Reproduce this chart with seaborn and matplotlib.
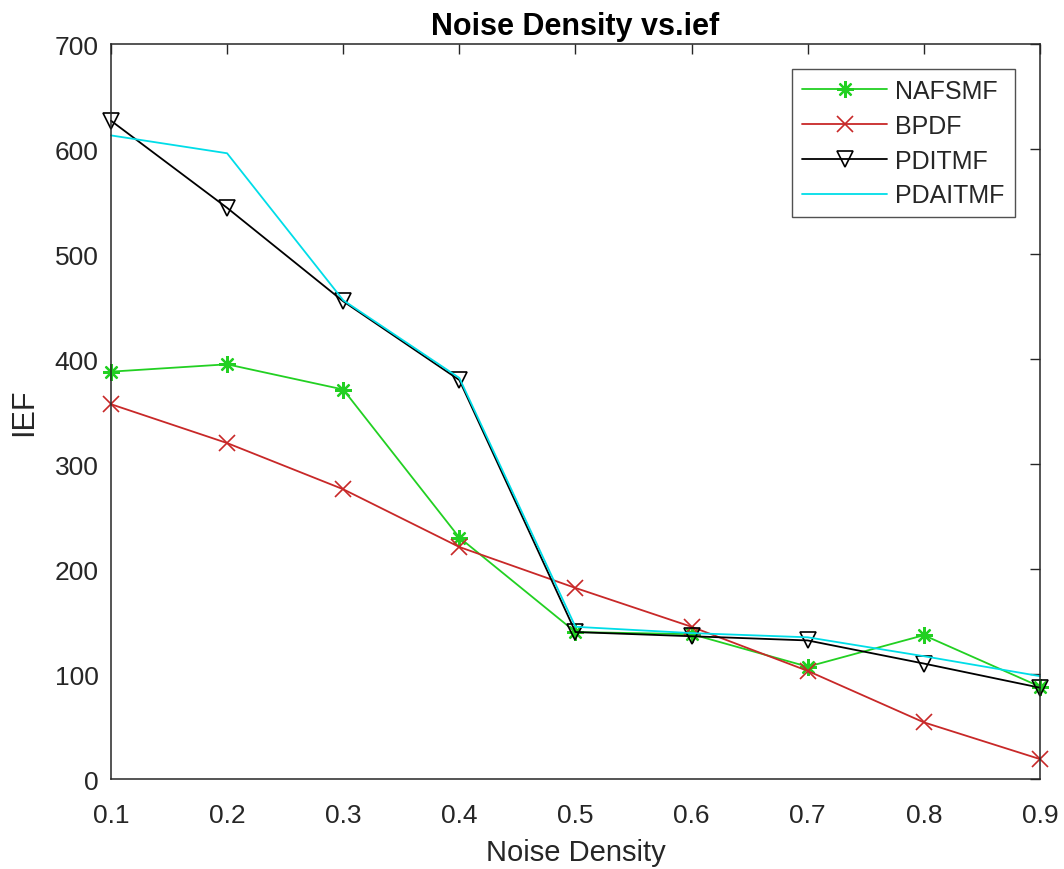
import matplotlib
matplotlib.use("Agg")
import matplotlib.pyplot as plt
import seaborn as sns
import pandas as pd

noise_density = [0.1, 0.2, 0.3, 0.4, 0.5, 0.6, 0.7, 0.8, 0.9]
nafsmf = [388, 395, 371, 230, 140, 138, 107, 137, 88]
bpdf = [357, 320, 276, 221, 182, 145, 103, 54, 19]
pditmf = [627, 544, 455, 380, 140, 136, 132, 110, 87]
pdaitmf = [613, 596, 456, 382, 145, 139, 135, 117, 98]

x_ticks = [0.1, 0.2, 0.3, 0.4, 0.5, 0.6, 0.7, 0.8, 0.9]
y_ticks = [0, 100, 200, 300, 400, 500, 600, 700]

sns.set_theme(style="white")
plt.rcParams["font.family"] = ["Liberation Sans", "DejaVu Sans"]

fig = plt.figure(figsize=(10.64, 8.70), dpi=100)
ax = fig.add_axes([0.1043, 0.1034, 0.8731, 0.8448])

GREEN = "#22d022"
RED = "#c82828"
CYAN = "#00dde8"

series = [
    ("NAFSMF", nafsmf, dict(color=GREEN, marker=(8, 2, 0), markersize=12,
                            markeredgecolor=GREEN, markeredgewidth=1.6)),
    ("BPDF", bpdf, dict(color=RED, marker="x", markersize=11,
                        markeredgecolor=RED, markeredgewidth=1.2)),
    ("PDITMF", pditmf, dict(color="black", marker="v", markersize=11,
                            markerfacecolor="none", markeredgecolor="black",
                            markeredgewidth=1.2)),
    ("PDAITMF", pdaitmf, dict(color=CYAN, marker=None)),
]

for name, values, style in series:
    df = pd.DataFrame({"Noise Density": noise_density, "IEF": values})
    sns.lineplot(data=df, x="Noise Density", y="IEF", ax=ax, label=name,
                 linewidth=1.3, clip_on=False, **style)

ax.set_xlim(0.1, 0.9)
ax.set_ylim(0, 700)
ax.set_xticks(x_ticks)
ax.set_xticklabels([f"{t:g}" for t in x_ticks])
ax.set_yticks(y_ticks)
ax.tick_params(direction="in", length=7, width=1, colors="#262626",
               labelsize=19, top=True, right=True, labelcolor="#262626")
ax.tick_params(axis="x", pad=17)
ax.tick_params(axis="y", pad=9)

for sp in ax.spines.values():
    sp.set_color("#262626")
    sp.set_linewidth(1.1)
    sp.set_visible(True)

ax.set_title("Noise Density vs.ief", fontsize=22, fontweight="bold", pad=7,
             color="black")
ax.set_xlabel("Noise Density", fontsize=21, color="#262626", labelpad=8)
ax.set_ylabel("IEF", fontsize=22, color="#262626", labelpad=11)

leg = ax.legend(loc="upper right", fontsize=18, frameon=True, fancybox=False,
                edgecolor="#262626", handlelength=3.4, borderpad=0.4,
                labelspacing=0.43, handletextpad=0.32, borderaxespad=0,
                bbox_to_anchor=(0.973, 0.966))
leg.get_frame().set_linewidth(1.0)

fig.savefig("out.png", dpi=100, facecolor="white")
